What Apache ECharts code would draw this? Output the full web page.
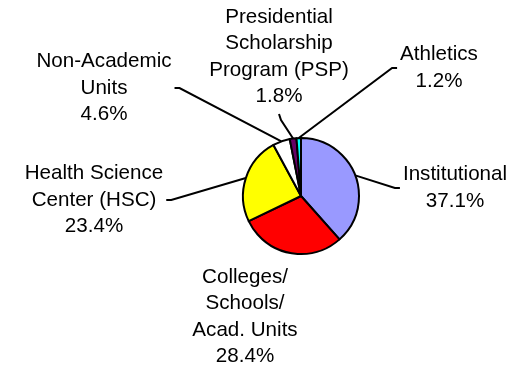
<!DOCTYPE html>
<html>
<head>
<meta charset="utf-8">
<script src="https://cdn.jsdelivr.net/npm/echarts@6/dist/echarts.min.js"></script>
<style>
  html, body { margin: 0; padding: 0; background: #fff; }
  #chart { width: 513px; height: 366px; }
</style>
</head>
<body>
<div id="chart"></div>
<script>
// Budget share by unit (percent)
const categories = [
  'Institutional',
  'Colleges/\nSchools/\nAcad. Units',
  'Health Science\nCenter (HSC)',
  'Non-Academic\nUnits',
  'Presidential\nScholarship\nProgram (PSP)',
  'Athletics'
];
const shares = [37.1, 28.4, 23.4, 4.6, 1.8, 1.2];
const sliceColors = ['#9999FF', '#FF0000', '#FFFF00', '#FFFFFF', '#660066', '#00FFFF'];

// Where each label block sits (centre) and which side its leader line meets
const labelSpots = [
  { x: 455, y: 188, side: 'left' },
  { x: 245, y: 317, side: null },
  { x: 94,  y: 200, side: 'right' },
  { x: 104, y: 88,  side: 'right' },
  { x: 279, y: 57,  side: 'bottom' },
  { x: 439, y: 68,  side: 'left' }
];

const chart = echarts.init(document.getElementById('chart'), null, { renderer: 'canvas' });

const fontSize = 20.6;
const lineH = 26.5;

chart.setOption({
  animation: false,
  backgroundColor: '#ffffff',
  series: [{
    type: 'pie',
    center: [301, 196],
    radius: 58,
    startAngle: 90,
    clockwise: true,
    avoidLabelOverlap: false,
    itemStyle: { borderColor: '#000', borderWidth: 2 },
    label: {
      show: true,
      position: 'outside',
      color: '#000',
      fontFamily: '"Liberation Sans", Arial, sans-serif',
      fontSize: fontSize,
      lineHeight: lineH,
      align: 'center',
      formatter: p => p.name + '\n' + p.value.toFixed(1) + '%'
    },
    labelLine: {
      show: true,
      length: 10,
      length2: 5,
      smooth: false,
      lineStyle: { color: '#000', width: 2 }
    },
    emphasis: { disabled: true },
    labelLayout: function (params) {
      const spot = labelSpots[params.dataIndex];
      const w = params.labelRect.width;
      const h = params.labelRect.height;
      const out = { x: spot.x, y: spot.y, align: 'center', verticalAlign: 'middle' };
      const pts = params.labelLinePoints;
      if (spot.side && pts) {
        const start = pts[0];
        let end, bend;
        if (spot.side === 'left') {
          end = [spot.x - w / 2 - 3, spot.y];
          bend = [end[0] - 5, end[1]];
        } else if (spot.side === 'right') {
          end = [spot.x + w / 2 + 3, spot.y];
          bend = [end[0] + 5, end[1]];
        } else {
          end = [spot.x, spot.y + h / 2 + 4];
          bend = [end[0] + 2, end[1] + 6];
        }
        out.labelLinePoints = [start, bend, end];
      }
      return out;
    },
    data: categories.map((name, i) => ({
      name: name,
      value: shares[i],
      itemStyle: { color: sliceColors[i] },
      labelLine: { show: labelSpots[i].side !== null }
    }))
  }]
});
</script>
</body>
</html>
